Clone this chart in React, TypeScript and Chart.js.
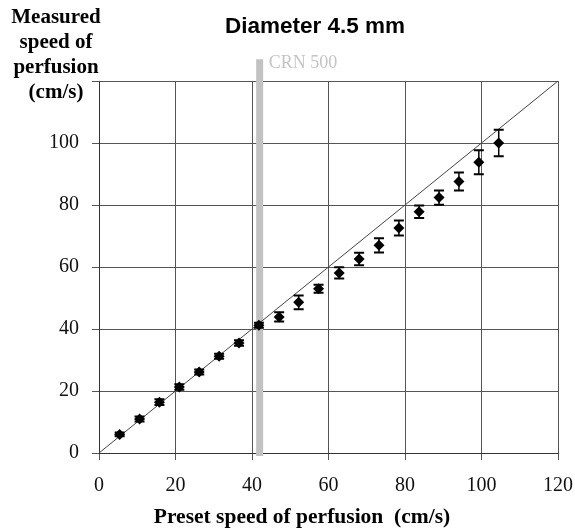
import React, { useEffect, useRef } from "react";
import { Chart, registerables } from "chart.js";

Chart.register(...registerables);

const TITLE = "Diameter 4.5 mm";
const Y_TITLE_LINES = ["Measured", "speed of", "perfusion", "(cm/s)"];
const X_TITLE = "Preset speed of perfusion  (cm/s)";
const MARKER_LABEL = "CRN 500";
const MARKER_X = 42;
const MARKER_Y_RANGE = [-1, 127];

const X_VALUES = [5.4, 10.6, 15.8, 21.0, 26.2, 31.4, 36.6, 41.8, 47.1, 52.2, 57.4, 62.8, 68.0, 73.2, 78.4, 83.7, 88.9, 94.1, 99.3, 104.5];
const Y_VALUES = [6.0, 11.0, 16.4, 21.3, 26.1, 31.2, 35.5, 41.2, 43.9, 48.6, 53.0, 58.1, 62.6, 67.0, 72.6, 77.8, 82.4, 87.6, 93.8, 100.0];
const ERRORS = [0.6, 0.8, 0.9, 0.9, 0.8, 0.8, 0.9, 0.8, 1.5, 2.2, 1.3, 1.8, 2.0, 2.3, 2.4, 2.0, 2.3, 2.9, 3.9, 4.3];
const IDENTITY_LINE = [0, 120];
const AXIS_MIN = 0;
const AXIS_MAX = 120;
const AXIS_STEP = 20;
const Y_HIDDEN_TICK = 120;

const SERIF = "'Liberation Serif', 'Times New Roman', serif";
const SANS = "'Liberation Sans', Arial, sans-serif";

const errorBarPlugin = {
  id: "errorBars",
  afterDatasetsDraw(chart: any) {
    const xs = chart.scales.x;
    const ys = chart.scales.y;
    const ctx = chart.ctx;
    ctx.save();
    ctx.strokeStyle = "#000";
    X_VALUES.forEach((xv, i) => {
      const x = xs.getPixelForValue(xv);
      const yTop = ys.getPixelForValue(Y_VALUES[i] + ERRORS[i]);
      const yBot = ys.getPixelForValue(Y_VALUES[i] - ERRORS[i]);
      ctx.lineWidth = 1.5;
      ctx.beginPath();
      ctx.moveTo(x, yTop);
      ctx.lineTo(x, yBot);
      ctx.stroke();
      ctx.lineWidth = 2;
      ctx.beginPath();
      ctx.moveTo(x - 5, yTop);
      ctx.lineTo(x + 5, yTop);
      ctx.moveTo(x - 5, yBot);
      ctx.lineTo(x + 5, yBot);
      ctx.stroke();
    });
    ctx.restore();
  },
};

const textPlugin = {
  id: "texts",
  afterDraw(chart: any) {
    const ctx = chart.ctx;
    const xs = chart.scales.x;
    const ys = chart.scales.y;
    ctx.save();
    ctx.fillStyle = "#000";
    ctx.textBaseline = "middle";
    ctx.font = `bold 22.5px ${SANS}`;
    ctx.textAlign = "left";
    ctx.fillText(TITLE, 225, 27);

    ctx.font = `bold 21px ${SERIF}`;
    ctx.textAlign = "center";
    Y_TITLE_LINES.forEach((line, i) => {
      ctx.fillText(line, 56, 18 + i * 25);
    });
    ctx.font = `bold 21.5px ${SERIF}`;
    ctx.fillText(X_TITLE, 302, 517);

    ctx.font = `18px ${SERIF}`;
    ctx.fillStyle = "#c4c4c4";
    ctx.textAlign = "left";
    ctx.fillText(MARKER_LABEL, xs.getPixelForValue(MARKER_X) + 9, ys.getPixelForValue(MARKER_Y_RANGE[1]) + 4);
    ctx.restore();
  },
};

export default function App() {
  const ref = useRef<HTMLCanvasElement>(null);
  useEffect(() => {
    if (!ref.current) return;
    const chart = new Chart(ref.current, {
      type: "scatter",
      data: {
        datasets: [
          {
            data: X_VALUES.map((x, i) => ({ x, y: Y_VALUES[i] })),
            pointStyle: "rectRot",
            pointRadius: 5.5,
            backgroundColor: "#000",
            borderColor: "#000",
            borderWidth: 0,
          },
          {
            type: "line",
            data: IDENTITY_LINE.map((v) => ({ x: v, y: v })),
            borderColor: "#444",
            borderWidth: 1,
            pointRadius: 0,
          } as any,
          {
            type: "line",
            data: MARKER_Y_RANGE.map((y) => ({ x: MARKER_X, y })),
            borderColor: "#c2c2c2",
            borderWidth: 7,
            borderCapStyle: "butt",
            pointRadius: 0,
            clip: false,
          } as any,
        ],
      },
      options: {
        animation: false,
        responsive: false,
        events: [],
        layout: { padding: { top: 81, left: 0, right: 17, bottom: 0 } },
        plugins: { legend: { display: false }, tooltip: { enabled: false }, title: { display: false } },
        scales: {
          x: {
            type: "linear",
            min: AXIS_MIN,
            max: AXIS_MAX,
            afterFit: (s: any) => {
              s.height = 76;
              s.paddingRight = 0;
              s.paddingLeft = 0;
            },
            ticks: { stepSize: AXIS_STEP, color: "#111", font: { family: SERIF, size: 20 }, padding: 14, maxRotation: 0 },
            grid: { color: "#555", lineWidth: 1, tickLength: 7, tickColor: "#555" },
            border: { color: "#333", width: 1 },
          },
          y: {
            type: "linear",
            min: AXIS_MIN,
            max: AXIS_MAX,
            afterFit: (s: any) => {
              s.width = 99;
              s.paddingTop = 0;
              s.paddingBottom = 0;
            },
            ticks: {
              stepSize: AXIS_STEP,
              color: "#111",
              font: { family: SERIF, size: 20 },
              padding: 13,
              callback: (v: any) => (v === Y_HIDDEN_TICK ? "" : String(v)),
            },
            grid: { color: "#555", lineWidth: 1, tickLength: 7, tickColor: "#555" },
            border: { color: "#333", width: 1 },
          },
        },
      },
      plugins: [errorBarPlugin, textPlugin],
    });
    return () => chart.destroy();
  }, []);
  return (
    <div style={{ position: "absolute", left: 0, top: 0, width: 575, height: 529, background: "#fff" }}>
      <canvas ref={ref} width={575} height={529} style={{ width: 575, height: 529 }} />
    </div>
  );
}
